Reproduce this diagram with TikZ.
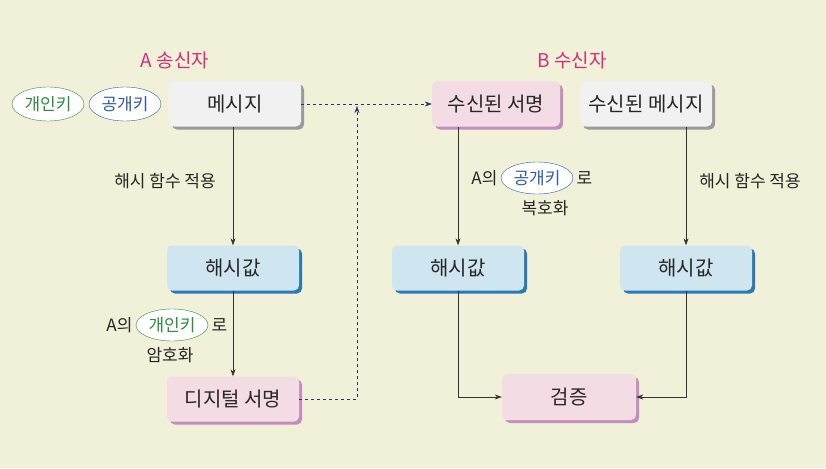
\documentclass[tikz,border=0pt]{standalone}
\usepackage{fontspec}
\setmainfont{Noto Sans CJK KR}
\usetikzlibrary{shapes.geometric,arrows.meta,shadows}
\definecolor{bg}{HTML}{F1F0D9}
\definecolor{gfill}{HTML}{F1F1F1}\definecolor{gsh}{HTML}{9A9A9A}
\definecolor{bfill}{HTML}{CFE6F0}\definecolor{bsh}{HTML}{2A78B6}
\definecolor{pfill}{HTML}{F4DCE4}\definecolor{psh}{HTML}{C48DBE}
\definecolor{mag}{HTML}{D4307A}\definecolor{navy}{HTML}{2B2F6E}
\definecolor{kgreen}{HTML}{2E8B3E}\definecolor{kblue}{HTML}{2D5CA8}
\tikzset{
 box/.style={rounded corners=5pt,minimum width=132pt,minimum height=45pt,font=\fontsize{20}{20}\selectfont,text=black!85},
 gbox/.style={box,fill=gfill,drop shadow={shadow xshift=3pt,shadow yshift=-3pt,fill=gsh,opacity=1}},
 bbox/.style={box,fill=bfill,drop shadow={shadow xshift=3pt,shadow yshift=-3pt,fill=bsh,opacity=1}},
 pbox/.style={box,fill=pfill,drop shadow={shadow xshift=3pt,shadow yshift=-3pt,fill=psh,opacity=1}},
 key/.style={ellipse,draw=#1,fill=white,text=#1,minimum width=72pt,minimum height=34pt,inner sep=0pt,font=\fontsize{17}{17}\selectfont},
 lab/.style={font=\fontsize{17}{17}\selectfont,text=black!85},
 ttl/.style={font=\fontsize{19}{19}\selectfont,text=mag},
 arr/.style={-{Stealth[length=7pt,width=5pt]},black!80,line width=0.6pt},
 darr/.style={-{Stealth[length=7pt,width=5pt]},navy,dashed,line width=0.6pt}
}
\begin{document}
\begin{tikzpicture}[x=1pt,y=-1pt]
\fill[bg] (0,0) rectangle (826,468);
\useasboundingbox (0,0) rectangle (826,468);
\node[ttl] (ta) at (175,60) {A 송신자};
\node[ttl] (tb) at (572,60) {B 수신자};
\node[key=kgreen] (k1) at (48,104) {개인키};
\node[key=kblue] (k2) at (125,104) {공개키};
\node[gbox] (msg) at (235,104) {메시지};
\node[bbox] (h1) at (233,268) {해시값};
\node[pbox] (sig) at (233,399) {디지털 서명};
\node[pbox,minimum width=128pt] (rs) at (496,104) {수신된 서명};
\node[gbox] (rm) at (646,104) {수신된 메시지};
\node[bbox] (h2) at (458,268) {해시값};
\node[bbox] (h3) at (686,268) {해시값};
\node[pbox,minimum width=134pt,minimum height=46pt] (ver) at (569,397) {검증};
\node[lab] (l1) at (165,181) {해시 함수 적용};
\node[lab] (l2) at (750,181) {해시 함수 적용};
\node[lab,anchor=east] (l3a) at (501,178) {A의};
\node[key=kblue,minimum width=72pt,minimum height=32pt] (k3) at (537,178) {공개키};
\node[lab,anchor=west] (l3b) at (573,178) {로};
\node[lab] (l3c) at (545,208) {복호화};
\node[lab,anchor=east] (l4a) at (136,325) {A의};
\node[key=kgreen,minimum width=72pt,minimum height=32pt] (k4) at (172,325) {개인키};
\node[lab,anchor=west] (l4b) at (208,325) {로};
\node[lab] (l4c) at (170,355) {암호화};
\coordinate (c1) at (357,399);
\coordinate (c2) at (357,106);
\draw[arr] (msg.south -| h1) -- (h1.north);
\draw[arr] (h1) -- (sig);
\draw[arr] (rs.south -| h2) -- (h2.north);
\draw[arr] (rm.south -| h3) -- (h3.north);
\draw[arr] (h2.south) |- (ver.west);
\draw[arr] (h3.south) |- (ver.east);
\draw[darr] (msg.east) -- (rs.west);
\draw[darr] (sig.east) -- (c1) -- (c2);
\end{tikzpicture}
\end{document}
